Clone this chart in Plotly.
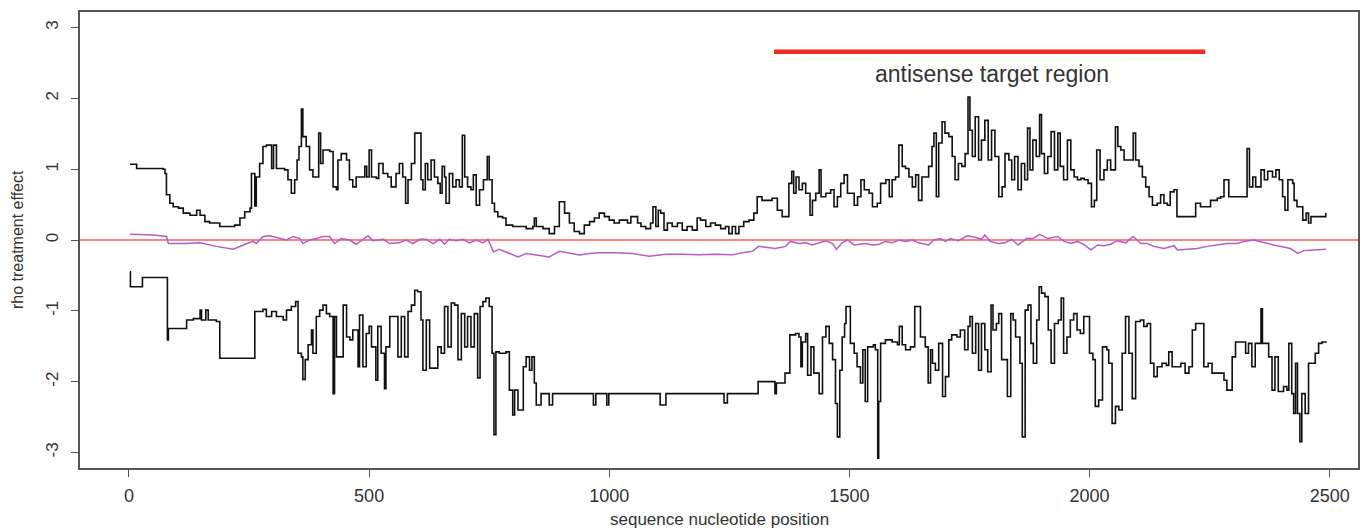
import plotly.graph_objects as go

# ---- upper black curve (position, rho) ----
upper_x = [2, 12, 16, 71, 75, 78, 85, 92, 103, 113, 127, 141, 148, 158, 168, 189, 203, 220, 231, 241, 252, 255, 262, 265, 272, 279, 286, 293, 297, 301, 307, 324, 331, 338, 345, 350, 354, 359, 362, 369, 376, 383, 390, 395, 399, 404, 418, 425, 432, 435, 442, 453, 459, 466, 473, 484, 491, 495, 500, 505, 515, 520, 529, 539, 546, 556, 563, 570, 576, 581, 588, 595, 603, 608, 612, 617, 622, 629, 636, 643, 648, 652, 657, 660, 667, 674, 681, 688, 694, 699, 705, 712, 717, 723, 730, 738, 746, 750, 756, 761, 768,
           778, 785, 799, 813, 827, 841, 844, 848, 862, 875, 886, 896, 907, 917, 927, 938, 948, 959, 969, 979, 990, 1000, 1010, 1021, 1031, 1038, 1045, 1052, 1059, 1066, 1076, 1086, 1091, 1097, 1102, 1107, 1114, 1121, 1131, 1142, 1152, 1162, 1173, 1183, 1190, 1201, 1211, 1221, 1232, 1242, 1249, 1256, 1263, 1270, 1280, 1291, 1301, 1308, 1318, 1329, 1339, 1350, 1360, 1367, 1374, 1380, 1384, 1389, 1395, 1402, 1409, 1418, 1423, 1430, 1437, 1441, 1451, 1461, 1468, 1475, 1482, 1489, 1496, 1503, 1510, 1517, 1524, 1531, 1541, 1548, 1558, 1565, 1576, 1583, 1589, 1596,
           1603, 1610, 1617, 1624, 1631, 1638, 1644, 1651, 1658, 1665, 1672, 1676, 1681, 1686, 1693, 1699, 1707, 1714, 1720, 1727, 1734, 1741, 1747, 1751, 1756, 1762, 1769, 1775, 1782, 1789, 1796, 1803, 1811, 1818, 1824, 1832, 1838, 1844, 1851, 1858, 1865, 1871, 1876, 1882, 1889, 1896, 1900, 1906, 1913, 1920, 1927, 1934, 1939, 1946, 1954, 1961, 1968, 1975, 1982, 1989, 1997, 2004, 2010, 2015, 2022, 2030, 2037, 2044, 2054, 2059, 2065, 2072, 2082, 2091, 2096, 2103, 2110, 2117, 2124, 2131, 2141, 2148, 2155, 2162, 2168, 2176, 2182, 2200, 2217, 2221, 2231, 2242, 2252, 2266, 2273, 2280, 2286, 2290, 2308, 2322, 2328, 2333, 2340, 2346, 2357, 2364, 2371, 2381, 2388, 2395, 2402, 2407, 2413, 2423, 2426, 2432, 2439, 2444, 2451, 2456, 2461, 2468, 2489, 2492]
upper_y = [1.07, 1.07, 1.01, 1.00, 0.94, 0.64, 0.52, 0.47, 0.45, 0.38, 0.35, 0.42, 0.35, 0.26, 0.24, 0.19, 0.19, 0.21, 0.31, 0.40, 0.45, 0.94, 0.48, 0.89, 1.08, 1.32, 1.34, 1.34, 1.01, 1.34, 1.01, 0.99, 0.85, 0.66, 0.85, 1.13, 1.32, 1.85, 1.46, 1.32, 0.99, 0.89, 0.89, 1.51, 1.08, 1.27, 1.25, 0.75, 0.71, 1.13, 1.22, 1.13, 0.85, 0.75, 0.89, 0.89, 1.04, 0.89, 1.27, 0.89, 0.87, 1.08, 0.94, 0.89, 0.75, 0.94, 1.08, 0.89, 0.52, 0.85, 1.08, 1.51, 1.51, 0.85, 0.71, 1.08, 0.85, 1.13, 0.89, 0.80, 0.66, 1.04, 0.89, 0.52, 0.94, 0.75, 0.85, 0.75, 1.48, 0.89, 0.75, 0.71, 0.92, 0.49, 0.71, 0.85, 1.18, 0.85, 0.52, 0.40, 0.33,
           0.31, 0.21, 0.19, 0.19, 0.16, 0.19, 0.31, 0.19, 0.16, 0.09, 0.19, 0.54, 0.38, 0.24, 0.12, 0.09, 0.21, 0.26, 0.31, 0.38, 0.33, 0.28, 0.24, 0.28, 0.28, 0.24, 0.33, 0.33, 0.24, 0.19, 0.16, 0.24, 0.47, 0.19, 0.42, 0.38, 0.14, 0.24, 0.19, 0.24, 0.14, 0.19, 0.14, 0.31, 0.28, 0.19, 0.24, 0.21, 0.16, 0.19, 0.09, 0.19, 0.09, 0.19, 0.26, 0.28, 0.38, 0.61, 0.56, 0.56, 0.59, 0.42, 0.33, 0.33, 0.80, 0.97, 0.66, 0.89, 0.71, 0.80, 0.66, 0.35, 0.56, 0.66, 0.99, 0.61, 0.66, 0.71, 0.47, 0.61, 0.80, 0.92, 0.66, 0.66, 0.49, 0.61, 0.85, 0.71, 0.66, 0.47, 0.52, 0.80, 0.85, 0.61, 0.85, 0.89,
           1.34, 1.04, 1.01, 0.89, 0.75, 0.92, 0.56, 0.89, 0.89, 1.04, 1.32, 1.51, 0.61, 1.37, 1.67, 1.51, 1.46, 1.18, 0.85, 1.08, 1.04, 1.22, 2.02, 1.55, 1.18, 1.74, 1.13, 1.41, 1.69, 1.13, 1.55, 1.18, 0.61, 0.75, 1.22, 1.13, 0.85, 1.18, 0.71, 1.08, 0.85, 1.58, 0.99, 1.41, 1.18, 1.77, 1.22, 0.94, 1.18, 1.53, 0.99, 1.51, 1.04, 0.85, 1.41, 0.99, 0.89, 0.85, 0.87, 0.85, 0.80, 0.47, 0.56, 1.27, 0.85, 0.99, 1.13, 0.99, 1.60, 1.32, 1.27, 1.13, 1.13, 1.51, 1.13, 1.04, 0.89, 0.75, 0.61, 0.49, 0.52, 0.64, 0.52, 0.49, 0.68, 0.71, 0.33, 0.33, 0.33, 0.52, 0.47, 0.47, 0.56, 0.59, 0.61, 0.85, 0.85, 0.61, 0.61, 0.61, 1.29, 0.75, 0.89, 0.75, 0.99, 0.85, 0.97, 0.89, 0.99, 0.85, 0.61, 0.42, 0.85, 0.80, 0.56, 0.47, 0.47, 0.28, 0.38, 0.24, 0.33, 0.33, 0.33, 0.38]

# ---- lower black curve ----
lower_x = [2, 3, 26, 28, 78, 80, 82, 116, 120, 134, 148, 151, 160, 165, 182, 189, 258, 262, 279, 286, 297, 307, 321, 328, 338, 347, 352, 359, 362, 367, 373, 380, 383, 390, 397, 404, 411, 418, 425, 428, 432, 439, 446, 453, 460, 466, 477, 480, 487, 494, 500, 505, 514, 518, 525, 532, 535, 543, 553, 560, 567, 574, 581, 588, 595, 601, 608, 612, 619, 626, 636, 643, 650, 657, 664, 671, 678, 685, 692, 699, 705, 712, 719, 726, 731, 737, 743, 750, 756, 760, 764,
           771, 780, 785, 792, 799, 803, 810, 817, 821, 827, 834, 839, 844, 848, 858, 872, 875, 882, 965, 967, 972, 993, 995, 999, 1104, 1106, 1116, 1118, 1236, 1239, 1246, 1308, 1310, 1343, 1345, 1348, 1364, 1366, 1374, 1376, 1388, 1395, 1399, 1402, 1409, 1413, 1420, 1426, 1437, 1444, 1451, 1458, 1465, 1471, 1475, 1480, 1485, 1490, 1493, 1499, 1502, 1510, 1516, 1523, 1528, 1533, 1538, 1550, 1554, 1559,
           1561, 1565, 1575, 1589, 1600, 1604, 1610, 1617, 1627, 1636, 1643, 1648, 1658, 1664, 1669, 1673, 1679, 1686, 1694, 1700, 1707, 1713, 1724, 1731, 1740, 1747, 1751, 1756, 1763, 1769, 1775, 1782, 1788, 1795, 1799, 1806, 1811, 1817, 1829, 1836, 1841, 1846, 1855, 1860, 1866, 1872, 1878, 1883, 1890, 1895, 1900, 1907, 1914, 1920, 1927, 1935, 1941, 1946, 1953, 1960, 1967, 1974, 1981, 1988, 1995, 2000, 2007, 2012, 2019, 2027, 2036, 2040, 2047, 2054, 2061, 2068, 2075, 2082, 2089, 2096, 2106, 2113, 2120, 2127, 2134, 2141, 2151, 2160, 2165, 2172, 2183, 2190, 2199, 2207, 2214, 2221, 2231, 2238, 2247, 2255, 2269, 2280, 2286, 2293, 2297, 2304, 2318, 2325, 2331, 2338, 2345, 2356, 2357, 2360, 2367, 2373, 2380, 2386, 2393, 2404, 2411, 2415, 2421, 2425, 2429, 2433, 2438, 2442, 2449, 2456, 2463, 2470, 2477, 2484, 2494]
lower_y = [-0.45, -0.66, -0.66, -0.53, -0.53, -1.41, -1.25, -1.25, -1.13, -1.11, -0.99, -1.13, -0.99, -1.13, -1.15, -1.67, -1.67, -1.01, -0.98, -1.08, -1.01, -1.08, -1.13, -0.99, -0.94, -0.87, -1.60, -1.65, -1.97, -1.69, -1.48, -1.27, -1.60, -1.08, -0.99, -0.92, -1.04, -1.08, -2.17, -1.08, -1.65, -1.65, -0.92, -1.37, -1.41, -1.27, -1.79, -1.06, -1.79, -1.32, -1.22, -1.51, -1.98, -1.22, -1.60, -2.10, -1.51, -1.08, -1.08, -1.65, -1.08, -1.65, -1.01, -0.92, -0.71, -0.73, -1.13, -1.84, -1.13, -1.81, -1.81, -1.51, -1.60, -0.94, -1.51, -0.89, -0.92, -1.69, -1.04, -1.51, -1.08, -1.51, -1.04, -1.95, -0.94, -0.87, -0.82, -0.94, -1.60, -2.75, -1.58,
           -1.60, -1.60, -1.58, -2.12, -2.47, -2.12, -2.40, -2.40, -1.79, -1.65, -1.84, -1.65, -2.02, -2.33, -2.17, -2.17, -2.33, -2.17, -2.17, -2.33, -2.17, -2.17, -2.33, -2.17, -2.17, -2.33, -2.33, -2.17, -2.17, -2.30, -2.17, -2.17, -2.00, -2.00, -2.17, -2.02, -2.02, -1.88, -1.88, -1.34, -1.32, -1.37, -1.79, -1.44, -1.32, -1.91, -1.51, -1.88, -2.17, -1.37, -1.22, -1.46, -1.69, -2.31, -2.78, -1.84, -1.37, -1.18, -0.94, -0.94, -1.46, -1.60, -1.79, -2.02, -1.55, -2.28, -1.51, -1.48, -1.55, -3.08,
           -2.28, -1.46, -1.41, -1.44, -1.48, -1.22, -1.48, -1.55, -1.51, -0.94, -0.94, -1.37, -1.51, -2.02, -1.55, -1.74, -1.84, -1.46, -2.21, -1.93, -1.41, -1.34, -1.37, -1.27, -1.55, -1.22, -1.08, -1.60, -1.18, -1.84, -1.18, -1.55, -1.86, -0.92, -1.27, -1.18, -1.04, -1.69, -2.21, -1.04, -1.13, -1.37, -1.74, -2.78, -0.99, -0.92, -1.46, -1.74, -1.13, -0.66, -0.75, -0.80, -1.27, -1.74, -1.18, -1.13, -0.82, -1.60, -1.37, -1.13, -1.04, -1.27, -1.32, -1.08, -1.08, -1.60, -1.69, -2.35, -2.26, -1.51, -1.55, -1.74, -2.59, -2.35, -2.40, -1.60, -1.08, -1.60, -2.24, -1.15, -1.13, -1.22, -1.18, -1.74, -1.93, -1.79, -1.74, -1.77, -1.58, -1.79, -1.79, -1.74, -1.88, -1.79, -1.27, -1.18, -1.18, -1.79, -1.74, -1.88, -1.88, -1.98, -2.12, -2.12, -1.65, -1.44, -1.44, -1.60, -1.46, -1.79, -1.46, -1.46, -0.97, -1.46, -1.46, -1.65, -2.12, -1.65, -2.14, -2.07, -2.12, -1.46, -2.17, -2.45, -1.74, -2.45, -2.85, -2.17, -2.45, -1.74, -1.74, -1.60, -1.46, -1.44, -1.44]

# ---- purple (middle) curve ----
mid_x = [2, 51, 78, 82, 120, 148, 182, 217, 238, 258, 265, 279, 293, 314, 328, 342, 356, 362, 376, 390, 404, 418, 428, 442, 459, 473, 487, 498, 508, 529, 543, 563, 577, 591, 605, 619, 633, 647, 657, 667, 681, 695, 709, 723, 737, 747, 754, 759, 771,
         792, 810, 827, 848, 875, 896, 917, 938, 959, 979, 1014, 1048, 1083, 1118, 1152, 1187, 1221, 1256, 1277, 1298, 1311, 1325, 1346, 1367, 1377, 1395, 1409, 1423, 1437, 1451, 1465, 1473, 1485, 1496, 1510, 1520, 1534, 1548, 1562, 1575, 1589,
         1603, 1617, 1631, 1644, 1665, 1676, 1690, 1700, 1710, 1727, 1745, 1762, 1775, 1782, 1793, 1810, 1824, 1838, 1851, 1869, 1882, 1896, 1913, 1934, 1947, 1961, 1975, 1989, 2003, 2017, 2030, 2044, 2058, 2075, 2091, 2107, 2120, 2134, 2155, 2176, 2183, 2203, 2224, 2245, 2266, 2286, 2307, 2321, 2342, 2363, 2383, 2404, 2418, 2434, 2446, 2468, 2492]
mid_y = [0.08, 0.07, 0.05, -0.05, -0.05, -0.04, -0.09, -0.13, -0.07, -0.02, -0.05, 0.05, 0.06, 0.02, 0.00, 0.05, 0.02, -0.05, 0.00, 0.02, 0.05, 0.05, -0.05, 0.02, 0.00, -0.06, 0.01, 0.06, -0.01, 0.01, -0.05, -0.04, 0.00, -0.05, 0.01, 0.01, -0.05, 0.01, -0.06, 0.01, -0.01, 0.01, -0.04, 0.00, -0.04, 0.01, -0.09, -0.17, -0.13,
         -0.19, -0.24, -0.19, -0.21, -0.24, -0.16, -0.19, -0.21, -0.19, -0.18, -0.18, -0.19, -0.23, -0.20, -0.20, -0.21, -0.20, -0.21, -0.18, -0.16, -0.09, -0.10, -0.12, -0.09, -0.02, -0.05, -0.04, -0.07, -0.04, -0.01, -0.05, -0.13, -0.04, 0.00, -0.07, -0.06, -0.05, -0.07, -0.06, -0.02, -0.04,
         0.00, -0.02, 0.00, -0.04, -0.07, 0.00, 0.02, -0.02, 0.02, -0.01, 0.06, 0.04, 0.01, 0.07, -0.02, -0.05, -0.04, 0.01, -0.07, 0.02, 0.02, 0.08, 0.02, 0.05, -0.02, -0.05, -0.02, -0.07, -0.14, -0.07, -0.08, -0.06, -0.01, -0.04, 0.05, -0.05, -0.05, -0.09, -0.12, -0.08, -0.14, -0.13, -0.12, -0.09, -0.07, -0.05, -0.05, -0.02, 0.00, -0.04, -0.07, -0.10, -0.12, -0.19, -0.15, -0.14, -0.13]

# target region
region_x = [1343, 2241]
region_y = [2.66, 2.66]
region_label = "antisense target region"
region_label_pos = (1796, 2.34)

x_ticks = [0, 500, 1000, 1500, 2000, 2500]
y_ticks = [-3, -2, -1, 0, 1, 2, 3]
x_title = "sequence nucleotide position"
y_title = "rho treatment effect"

FONT = "Liberation Sans, Arial, Helvetica, sans-serif"
TXT = "#333333"

fig = go.Figure()
fig.add_trace(go.Scatter(x=[-102, 2559], y=[0, 0], mode="lines",
                         line=dict(color="#ff5a5a", width=1.5), hoverinfo="skip"))
fig.add_trace(go.Scatter(x=mid_x, y=mid_y, mode="lines",
                         line=dict(color="#b45ec4", width=1.5)))
fig.add_trace(go.Scatter(x=upper_x, y=upper_y, mode="lines", line_shape="hv",
                         line=dict(color="#111111", width=1.6)))
fig.add_trace(go.Scatter(x=lower_x, y=lower_y, mode="lines", line_shape="hv",
                         line=dict(color="#111111", width=1.6)))
fig.add_trace(go.Scatter(x=region_x, y=region_y, mode="lines",
                         line=dict(color="#f02a22", width=4.5)))

fig.add_annotation(x=region_label_pos[0], y=region_label_pos[1], text=region_label,
                   showarrow=False, font=dict(family=FONT, size=23, color=TXT),
                   xanchor="center", yanchor="middle")
fig.add_annotation(x=0.5, xref="paper", y=0, yref="paper", yshift=-63,
                   text=x_title, showarrow=False,
                   font=dict(family=FONT, size=17, color=TXT),
                   xanchor="center", yanchor="bottom")
fig.add_annotation(x=0, xref="paper", xshift=-63, y=0.5, yref="paper",
                   text=y_title, textangle=-90, showarrow=False,
                   font=dict(family=FONT, size=16, color=TXT),
                   xanchor="center", yanchor="middle")

axis_common = dict(showgrid=False, zeroline=False, showline=True, mirror=True,
                   linecolor="#555555", linewidth=1.5, ticks="outside",
                   ticklen=7, tickwidth=1.3, tickcolor="#555555")

fig.update_layout(
    width=1363, height=531,
    margin=dict(l=80, r=3, t=12, b=63),
    paper_bgcolor="white", plot_bgcolor="white",
    showlegend=False,
    xaxis=dict(range=[-102, 2559], tickvals=x_ticks, ticktext=[str(v) for v in x_ticks],
               tickfont=dict(family=FONT, size=18, color=TXT), ticklabelstandoff=4,
               **axis_common),
    yaxis=dict(range=[-3.22, 3.22], tickvals=y_ticks, ticktext=[str(v) for v in y_ticks],
               tickangle=-90, tickfont=dict(family=FONT, size=17, color=TXT),
               ticklabelstandoff=6, **axis_common),
)

fig.write_html("out.html", config={"displayModeBar": False},
               post_script="document.body.style.margin='0';document.body.style.overflow='hidden';")
